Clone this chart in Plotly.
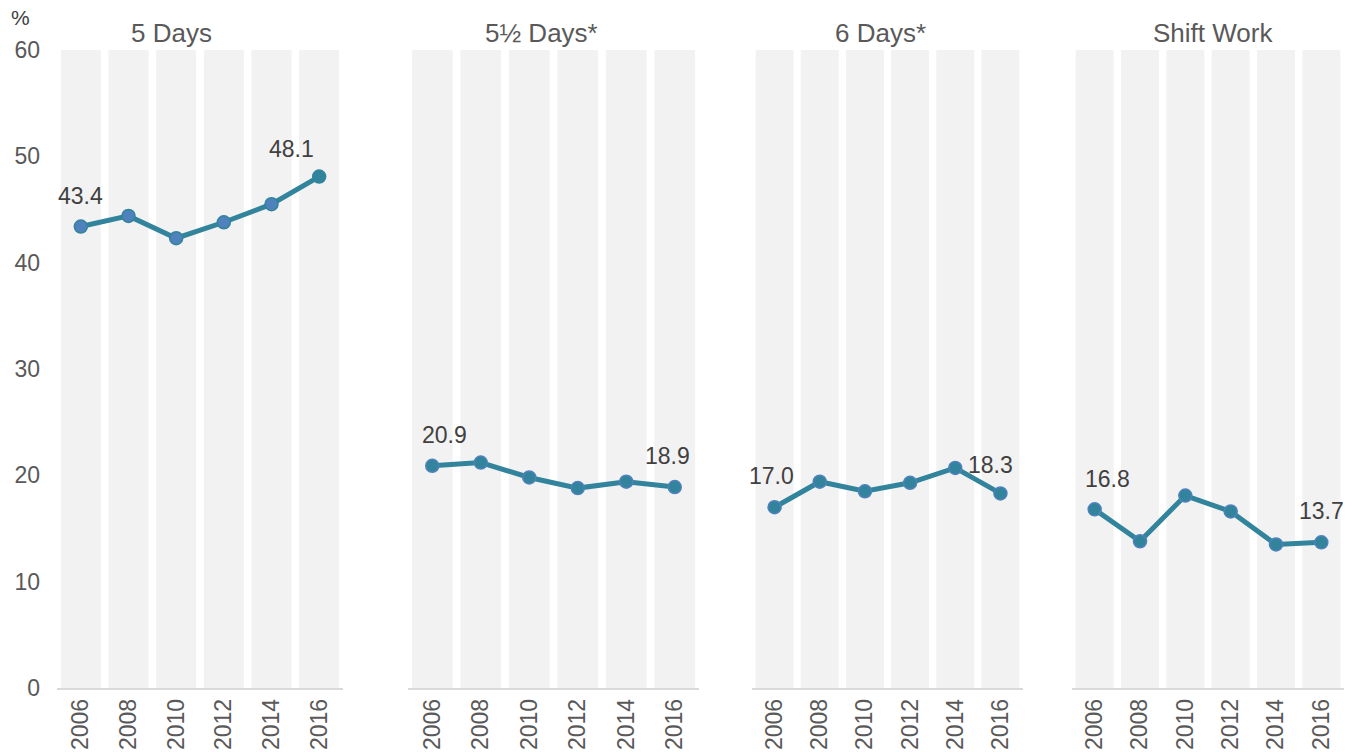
import plotly.graph_objects as go

years = ["2006", "2008", "2010", "2012", "2014", "2016"]
panel_titles = ["5 Days", "5½ Days*", "6 Days*", "Shift Work"]
five_days = [43.4, 44.4, 42.3, 43.8, 45.5, 48.1]
five_half_days = [20.9, 21.2, 19.8, 18.8, 19.4, 18.9]
six_days = [17.0, 19.4, 18.5, 19.3, 20.7, 18.3]
shift_work = [16.8, 13.8, 18.1, 16.6, 13.5, 13.7]
series = [five_days, five_half_days, six_days, shift_work]
y_ticks = [0, 10, 20, 30, 40, 50, 60]
Y_MAX = 60

W, H = 1359, 752
TEAL = "#31849B"
BLUE = "#4F81BD"
BAND = "#F2F2F2"
TXT = "#595959"
LBL = "#404040"
FONT = "Liberation Sans, Arial, sans-serif"

domains_px = [(57, 343), (408, 699), (752, 1023), (1072, 1344)]
title_x_px = [172, 541, 880, 1213]
# label offsets (first, last) in px
label_shift = [((0, 31), (-28, 28)), ((12, 31), (-7, 31)),
               ((-3, 31), (-10, 28)), ((13, 30), (0, 31))]

fig = go.Figure()
for i, vals in enumerate(series):
    xa = "x" if i == 0 else f"x{i+1}"
    ya = "y" if i == 0 else f"y{i+1}"
    fig.add_trace(go.Bar(x=years, y=[Y_MAX] * len(years), xaxis=xa, yaxis=ya,
                         marker=dict(color=BAND, line=dict(width=0)),
                         hoverinfo="skip", showlegend=False))
    if i == 0:
        fills = [BLUE] * (len(vals) - 1) + [TEAL]
        edges = [TEAL] * len(vals)
    else:
        fills = [TEAL] * len(vals)
        edges = [BLUE] * len(vals)
    fig.add_trace(go.Scatter(x=years, y=vals, xaxis=xa, yaxis=ya, mode="lines+markers",
                             line=dict(color=TEAL, width=5),
                             marker=dict(size=13, color=fills, line=dict(color=edges, width=1.5)),
                             showlegend=False))
    for j, (dx, dy) in zip([0, len(vals) - 1], label_shift[i]):
        fig.add_annotation(x=j, y=vals[j], xref=xa, yref=ya,
                           text=f"{vals[j]:.1f}", showarrow=False,
                           xshift=dx, yshift=dy,
                           font=dict(size=23, color=LBL, family=FONT))
    d0, d1 = domains_px[i]
    axis_kw = dict(domain=[d0 / W, d1 / W], type="category", range=[-0.5, 5.5],
                   showgrid=False, zeroline=False, showline=True, linecolor="#D9D9D9",
                   linewidth=1.5, ticks="", tickangle=-90,
                   tickfont=dict(size=23, color=TXT, family=FONT), automargin=False,
                   anchor=ya)
    yaxis_kw = dict(range=[0, Y_MAX], showgrid=False, zeroline=False, showline=False,
                    tickvals=y_ticks, showticklabels=(i == 0), ticks="",
                    ticklabelstandoff=16,
                    tickfont=dict(size=23, color=TXT, family=FONT), automargin=False,
                    anchor=xa, domain=[64 / H, 1 - 50 / H])
    fig.layout[("xaxis" if i == 0 else f"xaxis{i+1}")] = axis_kw
    fig.layout[("yaxis" if i == 0 else f"yaxis{i+1}")] = yaxis_kw
    fig.add_annotation(x=title_x_px[i] / W, y=1 - 33 / H, xref="paper", yref="paper",
                       text=panel_titles[i], showarrow=False, xanchor="center", yanchor="middle",
                       font=dict(size=26, color=TXT, family=FONT))

fig.add_annotation(x=20 / W, y=1 - 18 / H, xref="paper", yref="paper", text="%",
                   showarrow=False, xanchor="center", yanchor="middle",
                   font=dict(size=21, color=LBL, family=FONT))

fig.update_layout(width=W, height=H, margin=dict(l=0, r=0, t=0, b=0),
                  paper_bgcolor="white", plot_bgcolor="white", bargap=0.16,
                  font=dict(family=FONT))
fig.write_html("out.html")
